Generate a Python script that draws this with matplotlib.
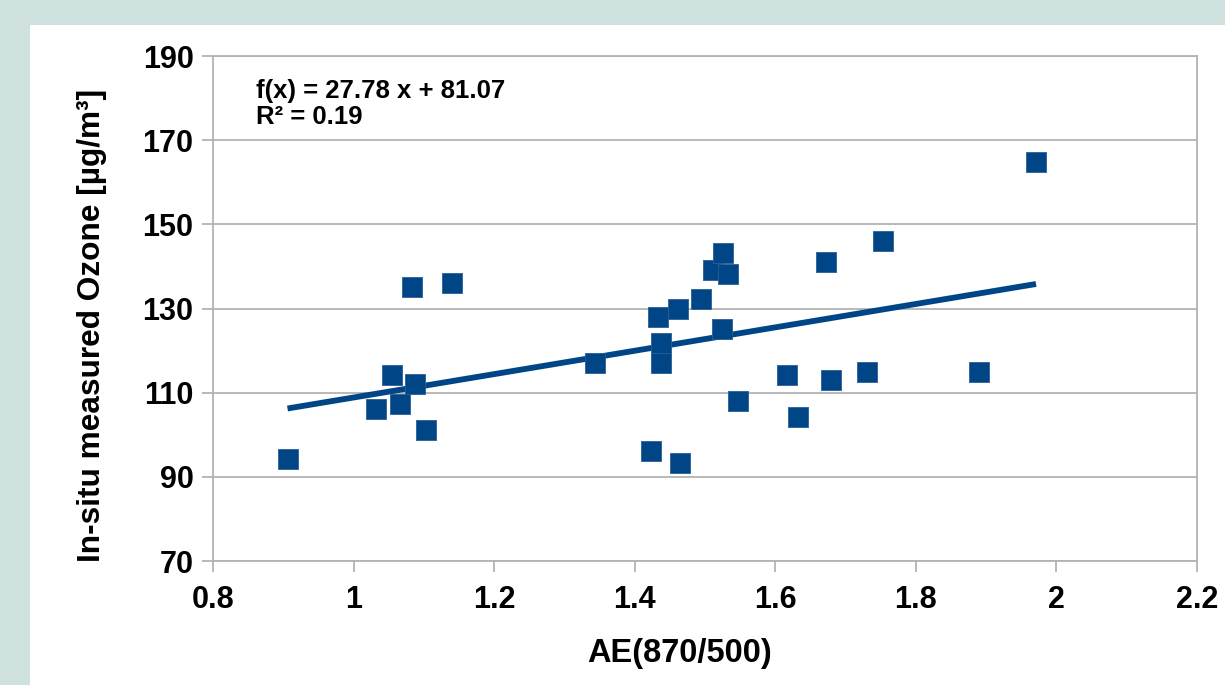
import matplotlib
matplotlib.use("Agg")
import matplotlib.pyplot as plt

plt.rcParams['font.family'] = ['Liberation Sans', 'DejaVu Sans']
plt.rcParams['font.weight'] = 'bold'

# AE(870/500) vs in-situ ozone
ae = [0.906, 1.032, 1.054, 1.066, 1.083, 1.088, 1.103, 1.140, 1.343, 1.423,
      1.433, 1.438, 1.438, 1.462, 1.465, 1.494, 1.512, 1.526, 1.533, 1.524,
      1.547, 1.616, 1.632, 1.672, 1.679, 1.731, 1.753, 1.890, 1.971]
ozone = [94.2, 106.2, 114.2, 107.3, 135.0, 112.1, 101.2, 136.0, 117.1, 96.2,
         128.0, 121.9, 117.1, 130.0, 93.3, 132.2, 139.2, 143.1, 138.2, 125.2,
         108.1, 114.1, 104.2, 141.0, 113.0, 115.0, 146.1, 115.0, 164.9]

slope = 27.78
intercept = 81.07
r2 = 0.19

x_ticks = [0.8, 1, 1.2, 1.4, 1.6, 1.8, 2, 2.2]
x_ticklabels = ['0.8', '1', '1.2', '1.4', '1.6', '1.8', '2', '2.2']
y_ticks = [70, 90, 110, 130, 150, 170, 190]

blue = '#004586'
grey = '#b3b3b3'

fig = plt.figure(figsize=(12.25, 6.85), dpi=100)
fig.patch.set_facecolor('#cfe2df')

# white page behind the chart
bg = fig.add_axes([30 / 1225, 0, 1 - 30 / 1225, 1 - 25 / 685], zorder=-1)
bg.set_facecolor('white')
bg.set_xticks([])
bg.set_yticks([])
for s in bg.spines.values():
    s.set_visible(False)

ax = fig.add_axes([213 / 1225, 1 - 561 / 685, 984 / 1225, 505 / 685])
ax.set_facecolor('white')

ax.set_xlim(0.8, 2.2)
ax.set_ylim(70, 190)
ax.set_xticks(x_ticks)
ax.set_xticklabels(x_ticklabels)
ax.set_yticks(y_ticks)

ax.grid(axis='y', color=grey, linewidth=1.3)
ax.set_axisbelow(True)
for s in ax.spines.values():
    s.set_color(grey)
    s.set_linewidth(1.3)
ax.tick_params(colors=grey, length=8, width=1.3, labelsize=22, labelcolor='black')
ax.tick_params(axis='x', pad=9)
ax.tick_params(axis='y', pad=6)

# trend line over the data range
x0, x1 = min(ae), max(ae)
ax.plot([x0, x1], [slope * x0 + intercept, slope * x1 + intercept],
        color=blue, linewidth=4.2, solid_capstyle='butt', zorder=2)

ax.scatter(ae, ozone, marker='s', s=14.8 ** 2, color=blue,
           edgecolors='#2a5f95', linewidths=0.6, zorder=3)

ax.text(0.044, 0.955, f"f(x) = {slope:.2f} x + {intercept:.2f}\nR² = {r2:.2f}",
        transform=ax.transAxes, va='top', ha='left', fontsize=18.5,
        fontweight='bold', linespacing=1.1)

ax.set_xlabel('AE(870/500)', fontsize=23.5, fontweight='bold')
ax.set_ylabel('In-situ measured Ozone [µg/m³]', fontsize=22.8, fontweight='bold')
ax.xaxis.set_label_coords(0.474, -0.152)
ax.yaxis.set_label_coords(-0.108, 0.466)

fig.savefig('out.png', dpi=100, facecolor=fig.get_facecolor())
